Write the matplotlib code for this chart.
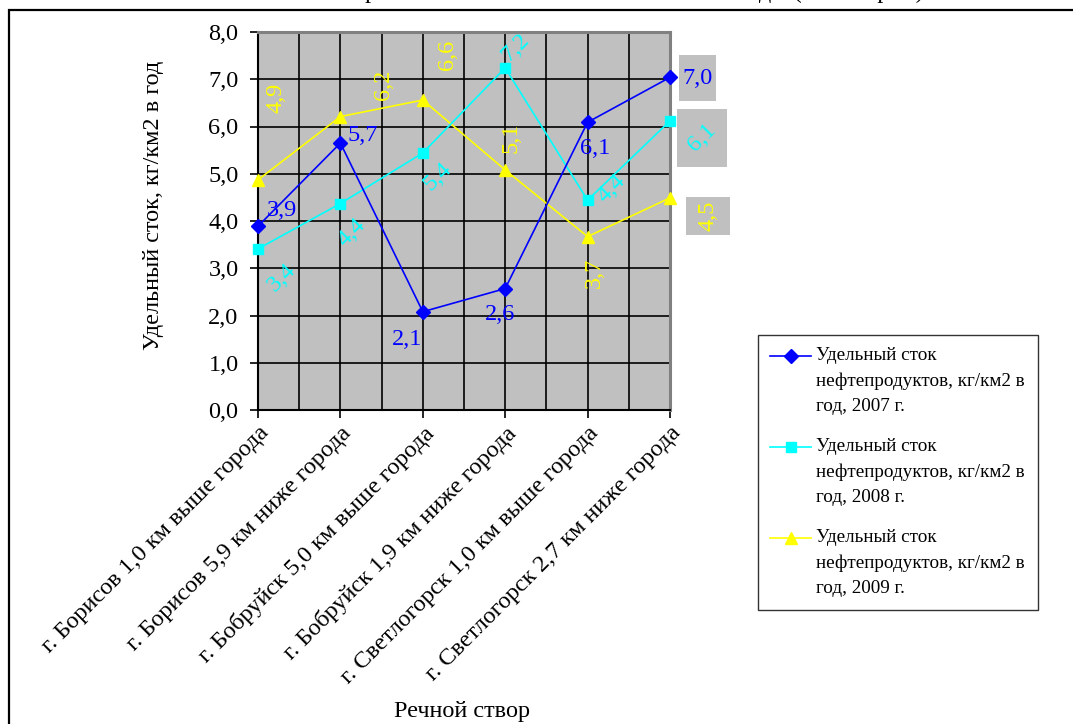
import matplotlib
matplotlib.use("Agg")
import matplotlib.pyplot as plt
from matplotlib.patches import Rectangle
from matplotlib.legend_handler import HandlerLine2D
from matplotlib.offsetbox import DrawingArea, AnnotationBbox
import matplotlib.transforms as mtransforms

plt.rcParams['font.family'] = ['Liberation Serif', 'DejaVu Serif']

categories = [
    "г. Борисов 1,0 км выше города",
    "г. Борисов 5,9 км ниже города",
    "г. Бобруйск 5,0 км выше города",
    "г. Бобруйск 1,9 км ниже города",
    "г. Светлогорск 1,0 км выше города",
    "г. Светлогорск 2,7 км ниже города",
]
values_2007 = [3.89, 5.65, 2.08, 2.57, 6.09, 7.04]
values_2008 = [3.41, 4.37, 5.44, 7.24, 4.44, 6.12]
values_2009 = [4.87, 6.21, 6.56, 5.08, 3.67, 4.49]
series_labels = [
    "Удельный сток\nнефтепродуктов, кг/км2 в\nгод, 2007 г.",
    "Удельный сток\nнефтепродуктов, кг/км2 в\nгод, 2008 г.",
    "Удельный сток\nнефтепродуктов, кг/км2 в\nгод, 2009 г.",
]
y_ticks = [0, 1, 2, 3, 4, 5, 6, 7, 8]

W, H = 1073, 724
FS = 17.5
fig = plt.figure(figsize=(W / 100, H / 100), dpi=100)

def fx(px):
    return px / W

def fy(py):
    return 1 - py / H

ax = fig.add_axes([fx(258), fy(410), fx(670) - fx(258), fy(32) - fy(410)])
ax.set_facecolor('#C0C0C0')
ax.set_xlim(0, len(categories) - 1)
ax.set_ylim(0, 8)

ax.set_xticks(range(len(categories)))
ax.set_xticks([i + 0.5 for i in range(len(categories) - 1)], minor=True)
ax.set_yticks(y_ticks)
ax.set_yticklabels([f"{v:.1f}".replace('.', ',') for v in y_ticks], fontsize=FS)
ax.grid(True, which='both', axis='x', color='black', lw=1.2)
ax.grid(True, which='major', axis='y', color='black', lw=1.2)
ax.set_axisbelow(True)
ax.tick_params(axis='x', which='minor', length=0)
ax.tick_params(axis='both', which='major', direction='out', length=6, width=1.2, color='black')
ax.tick_params(axis='y', pad=8)
ax.tick_params(axis='x', pad=3)
ax.set_xticklabels(categories, rotation=45, ha='right', rotation_mode='anchor', fontsize=FS)
for s in ['left', 'bottom']:
    ax.spines[s].set_color('black')
    ax.spines[s].set_linewidth(1.5)
for s in ['top', 'right']:
    ax.spines[s].set_color('#808080')
    ax.spines[s].set_linewidth(2.2)

x = list(range(len(categories)))
l1, = ax.plot(x, values_2007, color='#0000FF', lw=1.2, marker='D', ms=7, mec='#0000FF', mfc='#0000FF', clip_on=False, zorder=5)
l2, = ax.plot(x, values_2008, color='#00FFFF', lw=1.2, marker='s', ms=7.5, mec='#00FFFF', mfc='#00FFFF', clip_on=False, zorder=4)
l3, = ax.plot(x, values_2009, color='#FFFF00', lw=1.2, marker='^', ms=9, mec='#FFFF00', mfc='#FFFF00', clip_on=False, zorder=3)

def fmt(v):
    return f"{v:.1f}".replace('.', ',')

off_2007 = [(24, 16), (22, 8), (-16, -28), (-5, -26), (8, -26), (27, -1)]
off_2008 = [(24, -29), (11, -29), (15, -24), (10, 20), (24, 12), (32, -17)]
off_2009 = [(18, 82), (43, 32), (25, 45), (6, 32), (7, -36), (38, -18)]
last_box = [(37, 46), (50, 58), (44, 38)]

for series, offs, col, rot, bx in [(values_2007, off_2007, '#0000FF', 0, last_box[0]),
                                   (values_2008, off_2008, '#00FFFF', 45, last_box[1]),
                                   (values_2009, off_2009, '#FFFF00', 90, last_box[2])]:
    for i, (v, o) in enumerate(zip(series, offs)):
        if i == len(series) - 1:
            wpt, hpt = bx[0] * 0.72, bx[1] * 0.72
            da = DrawingArea(wpt, hpt, 0, 0)
            da.add_artist(Rectangle((0, 0), wpt, hpt, fc='#C0C0C0', ec='none'))
            ab = AnnotationBbox(da, (i, v), xybox=o, boxcoords='offset pixels',
                                frameon=False, pad=0, annotation_clip=False,
                                box_alignment=(0.5, 0.5))
            ab.set_zorder(5.5)
            ax.add_artist(ab)
        ax.annotate(fmt(v), (i, v), xytext=o, textcoords='offset pixels',
                    ha='center', va='center', color=col, fontsize=FS,
                    rotation=rot, rotation_mode='anchor', annotation_clip=False, zorder=6)

fig.text(fx(153), fy(205), "Удельный сток, кг/км2 в год", rotation=90,
         ha='center', va='center', fontsize=FS)
fig.text(fx(462), fy(712), "Речной створ", ha='center', va='center', fontsize=FS)

fig.text(fx(636), fy(-2), "Сравнение показателей за 2007–2009 годы (по створам)",
         ha='center', va='baseline', fontsize=FS)

fig.add_artist(Rectangle((fx(9), -0.1), 1.2, fy(10) + 0.1, transform=fig.transFigure,
                         fill=False, ec='black', lw=1.6))


class FirstLineHandler(HandlerLine2D):
    def __init__(self, shift, **kw):
        super().__init__(**kw)
        self.shift = shift

    def create_artists(self, legend, orig_handle, xdescent, ydescent, width, height,
                       fontsize, trans):
        t = mtransforms.Affine2D().translate(0, self.shift) + trans
        return super().create_artists(legend, orig_handle, xdescent, ydescent, width,
                                      height, fontsize, t)


LFS = 13.8
leg = fig.legend([l1, l2, l3], series_labels, loc='upper left',
                 bbox_to_anchor=(fx(758), fy(335)), bbox_transform=fig.transFigure,
                 fontsize=LFS, frameon=True, fancybox=False, shadow=False,
                 labelspacing=1.2, handlelength=2.1, handletextpad=0.3,
                 borderpad=0.65, borderaxespad=0,
                 handler_map={l: FirstLineHandler(18.3) for l in (l1, l2, l3)})
leg.get_frame().set_edgecolor('black')
leg.get_frame().set_linewidth(1.0)
for t in leg.get_texts():
    t.set_linespacing(1.62)

fig.savefig('out.png', dpi=100)
